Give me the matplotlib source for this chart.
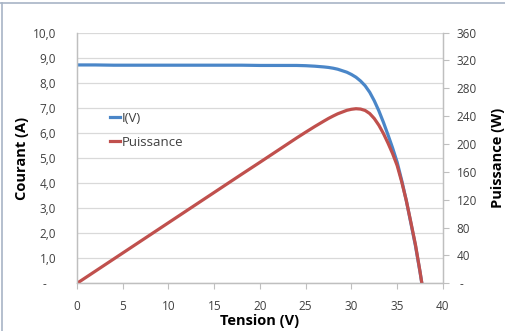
from matplotlib import pyplot as plt
from matplotlib.lines import Line2D

# Tension (V), courant (A) et puissance (W)
tension = [0, 2, 4, 6, 8, 10, 12, 14, 16, 18, 20, 22, 24, 25, 26, 27, 27.5, 28, 28.5,
           29, 29.5, 30, 30.5, 31, 31.5, 32, 32.5, 33, 33.5, 34, 34.5, 35, 35.5,
           36, 36.5, 37, 37.5, 37.7]
courant = [8.71, 8.71, 8.70, 8.70, 8.70, 8.70, 8.70, 8.70, 8.70, 8.70, 8.69, 8.69, 8.69,
           8.68, 8.66, 8.63, 8.61, 8.58, 8.54, 8.48, 8.42, 8.33, 8.22, 8.07, 7.88,
           7.62, 7.28, 6.88, 6.42, 5.92, 5.40, 4.83, 4.10, 3.30, 2.40, 1.50, 0.45, 0.0]
puissance = [0, 17.4, 34.8, 52.2, 69.6, 87.0, 104.4, 121.8, 139.2, 156.6, 173.8, 191.2, 208.6,
             217.0, 225.2, 233.0, 236.8, 240.2, 243.4, 245.9, 248.4, 249.9, 250.7, 250.2,
             248.2, 243.8, 236.6, 227.0, 215.1, 201.3, 186.3, 169.1, 145.6, 118.8, 87.6,
             55.5, 16.9, 0]

left_ticks = [0, 1, 2, 3, 4, 5, 6, 7, 8, 9, 10]
left_labels = ['-   ', '1,0', '2,0', '3,0', '4,0', '5,0', '6,0', '7,0', '8,0', '9,0', '10,0']
right_ticks = [0, 40, 80, 120, 160, 200, 240, 280, 320, 360]
right_labels = [' -'] + [str(t) for t in right_ticks[1:]]
x_ticks = [0, 5, 10, 15, 20, 25, 30, 35, 40]

blue = '#4a86c8'
red = '#c0504d'
txt = '#404040'
plt.rcParams['font.family'] = ['Open Sans', 'DejaVu Sans']

fig = plt.figure(figsize=(5.05, 3.31), dpi=100)
ax = fig.add_axes([0.1525, 0.1441, 0.877 - 0.1525, 0.9015 - 0.1441])
ax2 = ax.twinx()

ax.plot(tension, courant, color=blue, lw=2.3, label='I(V)')
ax2.plot(tension, puissance, color=red, lw=2.3, label='Puissance')

ax.set_xlim(0, 40)
ax.set_ylim(0, 10)
ax2.set_ylim(0, 360)

ax.set_yticks(left_ticks)
ax.set_yticklabels(left_labels)
ax2.set_yticks(right_ticks)
ax2.set_yticklabels(right_labels)
ax.set_xticks(x_ticks)

ax.grid(axis='y', color='#d9d9d9', lw=0.9)
ax.set_axisbelow(True)

for a in (ax, ax2):
    a.spines['top'].set_visible(False)
    for s in ('left', 'right', 'bottom'):
        a.spines[s].set_color('#bfbfbf')
        a.spines[s].set_linewidth(0.9)

ax.tick_params(axis='y', length=0, pad=15, labelsize=8.5, labelcolor=txt)
ax.tick_params(axis='x', length=4, color='#bfbfbf', pad=8, labelsize=8.5, labelcolor=txt)
ax2.tick_params(axis='y', length=4, color='#bfbfbf', pad=6, labelsize=8.5, labelcolor=txt)

ax.set_xlabel('Tension (V)', fontsize=10.5, fontweight='bold', labelpad=1)
ax.set_ylabel('Courant (A)', fontsize=10.5, fontweight='bold', labelpad=3)
ax2.set_ylabel('Puissance (W)', fontsize=10.5, fontweight='bold', labelpad=10)

h1, l1 = ax.get_legend_handles_labels()
h2, l2 = ax2.get_legend_handles_labels()
leg = ax2.legend(h1 + h2, l1 + l2, loc='upper left', bbox_to_anchor=(0.075, 0.705),
                 frameon=False, fontsize=9.5, handlelength=0.8, handletextpad=0.1,
                 labelspacing=0.85, borderaxespad=0)
for t in leg.get_texts():
    t.set_color(txt)

# cadre de la capture
fig.add_artist(Line2D([0, 1], [1 - 3 / 331, 1 - 3 / 331], color='#a8b4c6', lw=1.2))
fig.add_artist(Line2D([2 / 505, 2 / 505], [0, 1 - 3 / 331], color='#a8b4c6', lw=1.2))

fig.savefig('out.png', dpi=100)
